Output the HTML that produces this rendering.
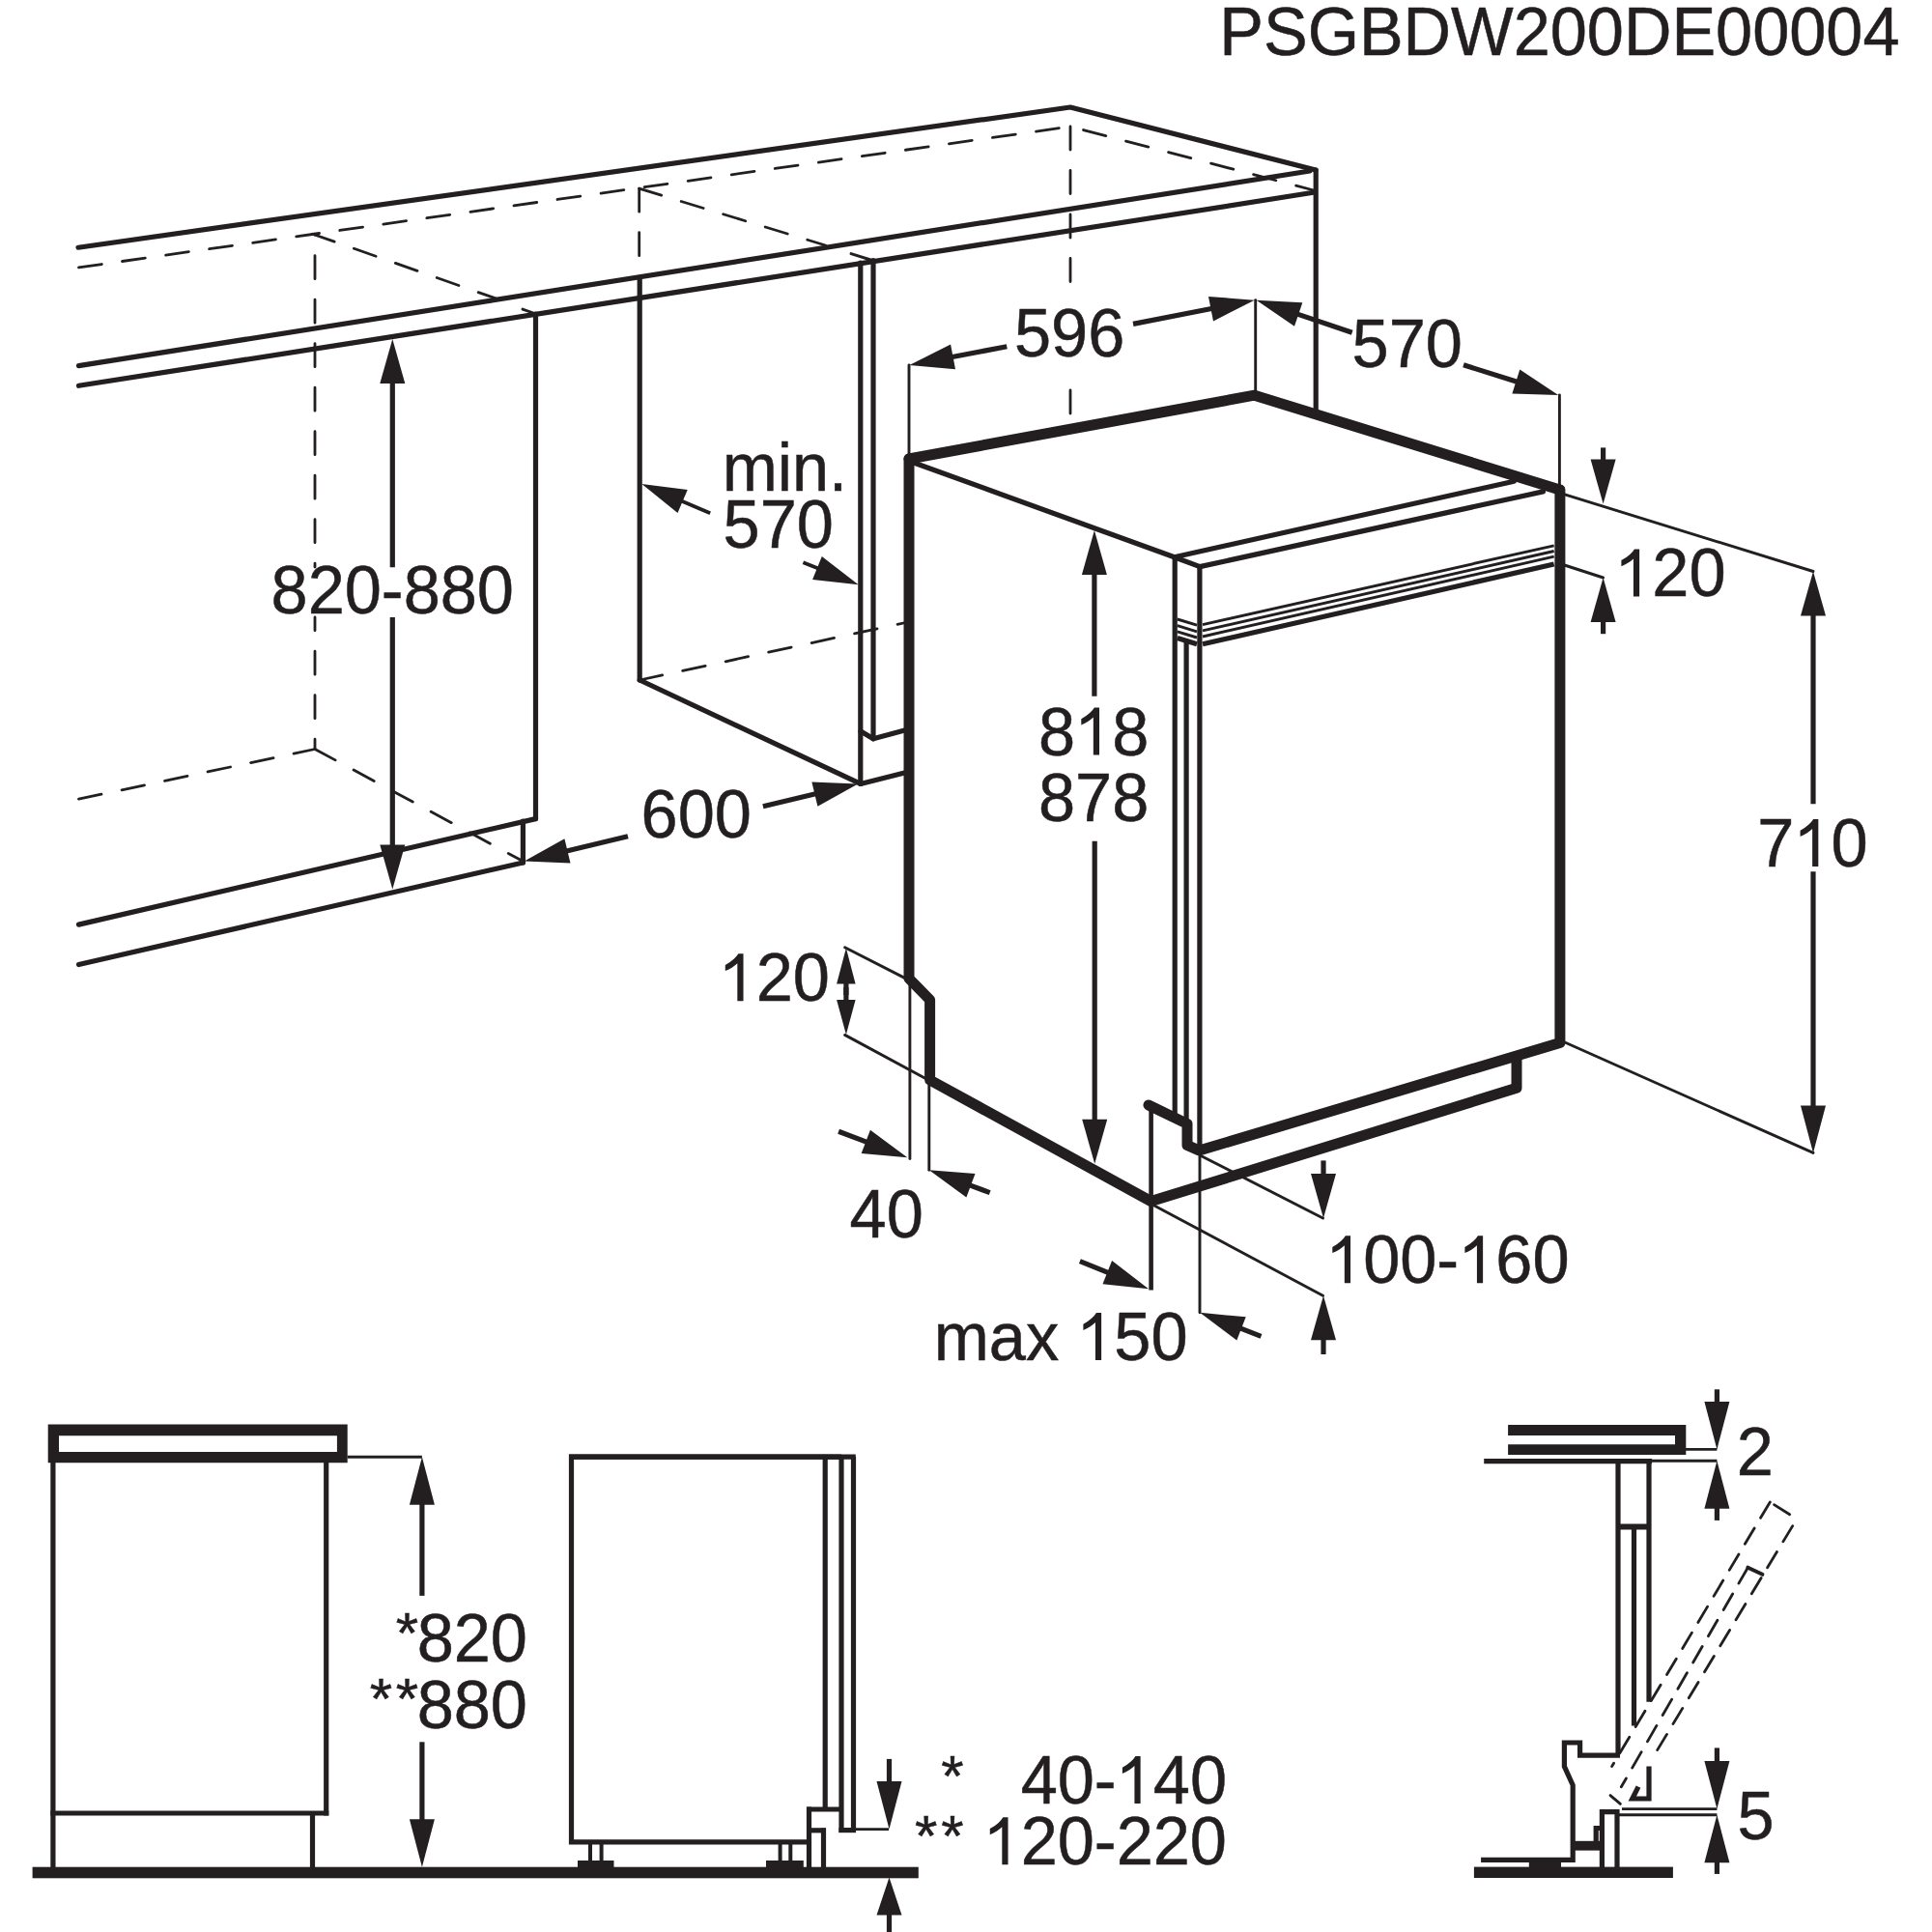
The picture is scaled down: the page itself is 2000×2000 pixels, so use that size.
<!DOCTYPE html>
<html><head><meta charset="utf-8"><style>
html,body{margin:0;padding:0;background:#fff;width:2000px;height:2000px;overflow:hidden}
svg{display:block}
text{font-family:"Liberation Sans",sans-serif;fill:#231f20;stroke:#231f20;stroke-width:0.5}
</style></head><body>
<svg width="2000" height="2000" viewBox="0 0 2000 2000" stroke="#231f20" fill="#231f20">
<text transform="translate(1262.3,57) scale(1,1.03)" font-size="68.5">PSGBDW200DE00004</text>
<polyline points="81,256.2 1108,111 1362,176" stroke-width="5.2" stroke-linecap="round" stroke-linejoin="round" fill="none"/>
<line x1="81.5" y1="276.9" x2="1108" y2="131" stroke-width="2.8" stroke-linecap="round" stroke-dasharray="24 21.5" stroke-dashoffset="0"/>
<line x1="1108" y1="131" x2="1360" y2="197" stroke-width="2.8" stroke-linecap="round" stroke-dasharray="24 21.5" stroke-dashoffset="31.5"/>
<line x1="1108" y1="131" x2="1108" y2="300" stroke-width="2.8" stroke-linecap="round" stroke-dasharray="24 21.5" stroke-dashoffset="0"/>
<line x1="1108" y1="404" x2="1108" y2="429" stroke-width="2.8" stroke-linecap="round" stroke-dasharray="24 21.5" stroke-dashoffset="0"/>
<line x1="81.5" y1="378.6" x2="1356" y2="177" stroke-width="5.2" stroke-linecap="round"/>
<line x1="81.5" y1="399.3" x2="1359.6" y2="199.3" stroke-width="5.2" stroke-linecap="round"/>
<line x1="1362.2" y1="176" x2="1362.2" y2="425" stroke-width="5.2" stroke-linecap="round"/>
<line x1="326" y1="242.2" x2="326" y2="587" stroke-width="2.8" stroke-linecap="round" stroke-dasharray="24 21.5" stroke-dashoffset="23"/>
<line x1="326" y1="639" x2="326" y2="775.5" stroke-width="2.8" stroke-linecap="round" stroke-dasharray="24 21.5" stroke-dashoffset="419.8"/>
<line x1="323.5" y1="242.2" x2="518" y2="310.6" stroke-width="2.8" stroke-linecap="round" stroke-dasharray="24 21.5" stroke-dashoffset="0"/>
<line x1="541" y1="320.1" x2="553.5" y2="324.5" stroke-width="2.9" stroke-linecap="round"/>
<line x1="554.5" y1="325" x2="554.5" y2="847.6" stroke-width="5.2" stroke-linecap="round"/>
<polyline points="554.5,847.6 81.5,957.1" stroke-width="5.2" stroke-linecap="round" stroke-linejoin="round" fill="none"/>
<line x1="541.4" y1="850" x2="541.4" y2="893" stroke-width="5.2" stroke-linecap="round"/>
<line x1="541.4" y1="893" x2="81.5" y2="998.5" stroke-width="5.2" stroke-linecap="round"/>
<line x1="81.5" y1="827.2" x2="326" y2="775.5" stroke-width="2.8" stroke-linecap="round" stroke-dasharray="24 21.5" stroke-dashoffset="0"/>
<line x1="326" y1="775.5" x2="541.4" y2="891.6" stroke-width="2.8" stroke-linecap="round" stroke-dasharray="24 21.5" stroke-dashoffset="0"/>
<polygon points="406.3,350.9 393.3,396.9 419.3,396.9" stroke="none"/>
<line x1="406.3" y1="394.9" x2="406.3" y2="587.2" stroke-width="5.2" stroke-linecap="butt"/>
<polygon points="406.3,920.4 419.3,874.4 393.3,874.4" stroke="none"/>
<line x1="406.3" y1="876.4" x2="406.3" y2="639" stroke-width="5.2" stroke-linecap="butt"/>
<text transform="translate(280.6,634.5) scale(1,1.03)" font-size="68.5">820-880</text>
<line x1="661.7" y1="195.2" x2="661.7" y2="288" stroke-width="2.8" stroke-linecap="round" stroke-dasharray="24 21.5" stroke-dashoffset="0"/>
<line x1="662.2" y1="288" x2="662.2" y2="704" stroke-width="5.2" stroke-linecap="round"/>
<line x1="661.7" y1="195.2" x2="854.6" y2="254" stroke-width="2.8" stroke-linecap="round" stroke-dasharray="24 21.5" stroke-dashoffset="0"/>
<line x1="881" y1="262.6" x2="903" y2="269.5" stroke-width="2.9" stroke-linecap="round"/>
<line x1="890.8" y1="272" x2="890.8" y2="811.4" stroke-width="5.2" stroke-linecap="round"/>
<line x1="904" y1="269.5" x2="904" y2="764.8" stroke-width="5.2" stroke-linecap="round"/>
<line x1="662.2" y1="704" x2="890.8" y2="811.4" stroke-width="5.2" stroke-linecap="round"/>
<line x1="662.2" y1="704" x2="937.4" y2="644.5" stroke-width="2.8" stroke-linecap="round" stroke-dasharray="24 21.5" stroke-dashoffset="0"/>
<polyline points="891,757 904,764.8 937.4,755.7" stroke-width="5.2" stroke-linecap="round" stroke-linejoin="round" fill="none"/>
<line x1="890.8" y1="811.4" x2="937.4" y2="799.7" stroke-width="5.2" stroke-linecap="round"/>
<text transform="translate(747.7,508.3) scale(1,1.03)" font-size="68.5">min.</text>
<text transform="translate(748.6,566.5) scale(1,1.03)" font-size="68.5">570</text>
<polygon points="664.3,500.9 701.5,531 711.7,507.1" stroke="none"/>
<line x1="704.7" y1="518.2" x2="735.2" y2="531.3" stroke-width="3.8" stroke-linecap="butt"/>
<polygon points="888.6,605.2 850.8,576 841.1,600.1" stroke="none"/>
<line x1="847.8" y1="588.8" x2="831.4" y2="582.2" stroke-width="3.8" stroke-linecap="butt"/>
<polygon points="542.7,891.6 590.5,893.4 584.4,868.2" stroke="none"/>
<line x1="585.5" y1="881.3" x2="650" y2="865.7" stroke-width="5.2" stroke-linecap="butt"/>
<polygon points="888.2,811.4 840.4,809.4 846.4,834.7" stroke="none"/>
<line x1="845.4" y1="821.5" x2="789.9" y2="834.7" stroke-width="5.2" stroke-linecap="butt"/>
<text transform="translate(663.6,867) scale(1,1.03)" font-size="68.5">600</text>
<polyline points="941,475 1298.6,409.2 1614.6,507" stroke-width="11" stroke-linecap="round" stroke-linejoin="round" fill="none"/>
<polyline points="941,475 941,1013 962.6,1035 962.6,1118 1191.6,1243.6 1570,1126.3 1570,1095" stroke-width="11" stroke-linecap="round" stroke-linejoin="round" fill="none"/>
<polyline points="1189,1144 1229,1163.4 1229,1185.4 1241.4,1191 1614.9,1079.5 1614.9,507" stroke-width="11" stroke-linecap="round" stroke-linejoin="round" fill="none"/>
<line x1="946" y1="479" x2="1215.7" y2="576.7" stroke-width="5.2" stroke-linecap="round"/>
<line x1="1215.7" y1="576.7" x2="1567.3" y2="498.2" stroke-width="5.2" stroke-linecap="round"/>
<polyline points="1215.7,576.7 1242.1,586.6 1597.4,508.9" stroke-width="5.2" stroke-linecap="round" stroke-linejoin="round" fill="none"/>
<line x1="1216.2" y1="576.7" x2="1216.2" y2="1157" stroke-width="5.2" stroke-linecap="round"/>
<line x1="1241.9" y1="586.6" x2="1241.9" y2="1191" stroke-width="5.2" stroke-linecap="round"/>
<line x1="1228.1" y1="663.7" x2="1228.1" y2="1163" stroke-width="5.2" stroke-linecap="round"/>
<line x1="1245" y1="646.6" x2="1608.7" y2="564.8" stroke-width="2.9" stroke-linecap="butt"/>
<line x1="1245" y1="652.8" x2="1608.7" y2="570.5" stroke-width="2.9" stroke-linecap="butt"/>
<line x1="1245" y1="659" x2="1608.7" y2="576.2" stroke-width="2.9" stroke-linecap="butt"/>
<line x1="1245" y1="666.8" x2="1608.7" y2="584" stroke-width="5.2" stroke-linecap="butt"/>
<line x1="1218.8" y1="641" x2="1239" y2="647.1" stroke-width="2.9" stroke-linecap="butt"/>
<line x1="1218.8" y1="647.7" x2="1239" y2="653.8" stroke-width="2.9" stroke-linecap="butt"/>
<line x1="1218.8" y1="653.9" x2="1239" y2="660" stroke-width="2.9" stroke-linecap="butt"/>
<line x1="1218.8" y1="660.6" x2="1239" y2="666.7" stroke-width="5.2" stroke-linecap="butt"/>
<polygon points="1132.9,548.9 1119.9,594.9 1145.9,594.9" stroke="none"/>
<line x1="1132.9" y1="592.9" x2="1132.9" y2="720.7" stroke-width="5.2" stroke-linecap="butt"/>
<polygon points="1133.2,1204.8 1146.2,1158.8 1120.2,1158.8" stroke="none"/>
<line x1="1133.2" y1="1160.8" x2="1133.2" y2="870.8" stroke-width="5.2" stroke-linecap="butt"/>
<text transform="translate(1075,781.5) scale(1,1.03)" font-size="68.5" xml:space="preserve">8</text>
<path transform="translate(1113.1,781.5) scale(0.03345,-0.03445)" d="M745 0H560V1130Q490 1065 400 1010Q300 950 185 903V1083Q340 1160 450 1260Q540 1340 590 1422H745Z" stroke="none"/>
<text transform="translate(1151.2,781.5) scale(1,1.03)" font-size="68.5" xml:space="preserve">8</text>
<text transform="translate(1075,850.1) scale(1,1.03)" font-size="68.5">878</text>
<line x1="941" y1="378" x2="941" y2="472" stroke-width="2.9" stroke-linecap="round"/>
<polygon points="941.4,378.1 989,382.2 984.1,356.6" stroke="none"/>
<line x1="984.6" y1="369.8" x2="1042.3" y2="358.7" stroke-width="5.2" stroke-linecap="butt"/>
<polygon points="1298.6,310.8 1251,306.9 1256,332.4" stroke="none"/>
<line x1="1255.4" y1="319.3" x2="1173" y2="335.4" stroke-width="5.2" stroke-linecap="butt"/>
<line x1="1299.7" y1="310.6" x2="1299.7" y2="406.6" stroke-width="2.9" stroke-linecap="round"/>
<text transform="translate(1050,369) scale(1,1.03)" font-size="68.5">596</text>
<polygon points="1300.6,310.8 1340,337.8 1348.3,313.2" stroke="none"/>
<line x1="1342.3" y1="324.9" x2="1399.7" y2="344.2" stroke-width="5.2" stroke-linecap="butt"/>
<polygon points="1613.2,408.9 1573.3,382.6 1565.4,407.4" stroke="none"/>
<line x1="1571.3" y1="395.6" x2="1515" y2="377.8" stroke-width="5.2" stroke-linecap="butt"/>
<line x1="1614.4" y1="409" x2="1614.4" y2="503.5" stroke-width="2.9" stroke-linecap="round"/>
<text transform="translate(1399.6,380.4) scale(1,1.03)" font-size="68.5">570</text>
<line x1="1618.2" y1="511.3" x2="1877" y2="591.5" stroke-width="2.9" stroke-linecap="round"/>
<polygon points="1659.6,521.6 1672.6,475.6 1646.6,475.6" stroke="none"/>
<line x1="1659.6" y1="477.6" x2="1659.6" y2="463.4" stroke-width="5.2" stroke-linecap="butt"/>
<line x1="1619.5" y1="585" x2="1659.6" y2="598" stroke-width="2.9" stroke-linecap="round"/>
<polygon points="1659.6,598 1646.6,644 1672.6,644" stroke="none"/>
<line x1="1659.6" y1="642" x2="1659.6" y2="656.2" stroke-width="5.2" stroke-linecap="butt"/>
<path transform="translate(1672.2,617.4) scale(0.03345,-0.03445)" d="M745 0H560V1130Q490 1065 400 1010Q300 950 185 903V1083Q340 1160 450 1260Q540 1340 590 1422H745Z" stroke="none"/>
<text transform="translate(1710.3,617.4) scale(1,1.03)" font-size="68.5" xml:space="preserve">20</text>
<polygon points="1877,591.5 1864,637.5 1890,637.5" stroke="none"/>
<line x1="1877" y1="635.5" x2="1877" y2="832.3" stroke-width="5.2" stroke-linecap="butt"/>
<polygon points="1877,1193.4 1890,1144.4 1864,1144.4" stroke="none"/>
<line x1="1877" y1="1146.4" x2="1877" y2="902.2" stroke-width="5.2" stroke-linecap="butt"/>
<text transform="translate(1819.3,897) scale(1,1.03)" font-size="68.5" xml:space="preserve">7</text>
<path transform="translate(1857.4,897) scale(0.03345,-0.03445)" d="M745 0H560V1130Q490 1065 400 1010Q300 950 185 903V1083Q340 1160 450 1260Q540 1340 590 1422H745Z" stroke="none"/>
<text transform="translate(1895.5,897) scale(1,1.03)" font-size="68.5" xml:space="preserve">0</text>
<line x1="1618.2" y1="1078.2" x2="1877" y2="1193.4" stroke-width="2.9" stroke-linecap="round"/>
<line x1="874.6" y1="980.8" x2="938" y2="1013.1" stroke-width="2.9" stroke-linecap="round"/>
<line x1="874.6" y1="1071.4" x2="961" y2="1118" stroke-width="2.9" stroke-linecap="round"/>
<polygon points="875.9,981.5 866.1,1018.5 885.6,1018.5" stroke="none"/>
<line x1="875.9" y1="1016.5" x2="875.9" y2="1030" stroke-width="5.2" stroke-linecap="butt"/>
<polygon points="875.9,1071 885.6,1035 866.1,1035" stroke="none"/>
<line x1="875.9" y1="1037" x2="875.9" y2="1022" stroke-width="5.2" stroke-linecap="butt"/>
<path transform="translate(744.6,1036.2) scale(0.03345,-0.03445)" d="M745 0H560V1130Q490 1065 400 1010Q300 950 185 903V1083Q340 1160 450 1260Q540 1340 590 1422H745Z" stroke="none"/>
<text transform="translate(782.7,1036.2) scale(1,1.03)" font-size="68.5" xml:space="preserve">20</text>
<line x1="941.9" y1="1013" x2="941.9" y2="1199.6" stroke-width="2.9" stroke-linecap="round"/>
<line x1="961.8" y1="1118" x2="961.8" y2="1211.3" stroke-width="2.9" stroke-linecap="round"/>
<polygon points="939.3,1198.3 900.9,1169.8 891.7,1194.1" stroke="none"/>
<line x1="898.2" y1="1182.6" x2="868.1" y2="1171.2" stroke-width="5.2" stroke-linecap="butt"/>
<polygon points="961.8,1211.3 1000.4,1239.5 1009.5,1215.1" stroke="none"/>
<line x1="1003.1" y1="1226.6" x2="1024.7" y2="1234.6" stroke-width="5.2" stroke-linecap="butt"/>
<text transform="translate(879.6,1281.2) scale(1,1.03)" font-size="68.5">40</text>
<line x1="1191.6" y1="1147.9" x2="1191.6" y2="1335.5" stroke-width="4.6" stroke-linecap="butt"/>
<line x1="1242" y1="1191" x2="1242" y2="1358.8" stroke-width="2.9" stroke-linecap="round"/>
<polygon points="1189,1334.2 1151.1,1305 1141.5,1329.2" stroke="none"/>
<line x1="1148.2" y1="1317.8" x2="1117.9" y2="1305.7" stroke-width="5.2" stroke-linecap="butt"/>
<polygon points="1242.1,1358.8 1280.3,1387.6 1289.7,1363.3" stroke="none"/>
<line x1="1283.1" y1="1374.7" x2="1305.5" y2="1383.4" stroke-width="5.2" stroke-linecap="butt"/>
<text transform="translate(966.8,1408) scale(1,1.03)" font-size="68.5" xml:space="preserve">max </text>
<path transform="translate(1115.2,1408) scale(0.03345,-0.03445)" d="M745 0H560V1130Q490 1065 400 1010Q300 950 185 903V1083Q340 1160 450 1260Q540 1340 590 1422H745Z" stroke="none"/>
<text transform="translate(1153.3,1408) scale(1,1.03)" font-size="68.5" xml:space="preserve">50</text>
<line x1="1242.7" y1="1196.2" x2="1369.5" y2="1261" stroke-width="2.9" stroke-linecap="round"/>
<line x1="1191.6" y1="1246.2" x2="1369.5" y2="1341.2" stroke-width="2.9" stroke-linecap="round"/>
<polygon points="1370,1261 1383,1215 1357,1215" stroke="none"/>
<line x1="1370" y1="1217" x2="1370" y2="1201.4" stroke-width="5.2" stroke-linecap="butt"/>
<polygon points="1370,1341.2 1357,1387.2 1383,1387.2" stroke="none"/>
<line x1="1370" y1="1385.2" x2="1370" y2="1402" stroke-width="5.2" stroke-linecap="butt"/>
<path transform="translate(1373.1,1328.2) scale(0.03345,-0.03445)" d="M745 0H560V1130Q490 1065 400 1010Q300 950 185 903V1083Q340 1160 450 1260Q540 1340 590 1422H745Z" stroke="none"/>
<text transform="translate(1411.2,1328.2) scale(1,1.03)" font-size="68.5" xml:space="preserve">00-</text>
<path transform="translate(1510.2,1328.2) scale(0.03345,-0.03445)" d="M745 0H560V1130Q490 1065 400 1010Q300 950 185 903V1083Q340 1160 450 1260Q540 1340 590 1422H745Z" stroke="none"/>
<text transform="translate(1548.3,1328.2) scale(1,1.03)" font-size="68.5" xml:space="preserve">60</text>
<path d="M49.7,1474.6 H359.7 V1514.2 H49.7 Z M61,1486.2 H348.9 V1503 H61 Z" fill-rule="evenodd" stroke="none"/>
<line x1="54.9" y1="1514" x2="54.9" y2="1934" stroke-width="5.2" stroke-linecap="butt"/>
<line x1="337.7" y1="1514" x2="337.7" y2="1879.5" stroke-width="5.2" stroke-linecap="butt"/>
<line x1="52.3" y1="1877" x2="340.3" y2="1877" stroke-width="5.2" stroke-linecap="butt"/>
<line x1="323.5" y1="1877" x2="323.5" y2="1934" stroke-width="5.2" stroke-linecap="butt"/>
<rect x="33.6" y="1932.7" width="917.2" height="11.6" stroke="none"/>
<line x1="359.7" y1="1508.2" x2="436.9" y2="1508.2" stroke-width="2.9" stroke-linecap="butt"/>
<polygon points="436.9,1508.2 423.9,1557.7 449.9,1557.7" stroke="none"/>
<line x1="436.9" y1="1555.7" x2="436.9" y2="1651.9" stroke-width="5.2" stroke-linecap="butt"/>
<polygon points="436.9,1932.7 449.9,1883.2 423.9,1883.2" stroke="none"/>
<line x1="436.9" y1="1885.2" x2="436.9" y2="1803.3" stroke-width="5.2" stroke-linecap="butt"/>
<text transform="translate(431.7,1720.4) scale(1,1.03)" font-size="68.5">820</text>
<text transform="translate(409.7,1711.1)" font-size="60">*</text>
<text transform="translate(431.7,1789) scale(1,1.03)" font-size="68.5">880</text>
<text transform="translate(382.8,1779.4)" font-size="60">*</text>
<text transform="translate(409.7,1779.4)" font-size="60">*</text>
<polyline points="871,1508.2 591.5,1508.2 591.5,1906.8 837.5,1906.8" stroke-width="5.2" stroke-linecap="butt" stroke-linejoin="miter" fill="none"/>
<line x1="589" y1="1508.2" x2="885.8" y2="1508.2" stroke-width="5.2" stroke-linecap="butt"/>
<line x1="854.2" y1="1508" x2="854.2" y2="1873" stroke-width="5.2" stroke-linecap="butt"/>
<line x1="871" y1="1508" x2="871" y2="1897" stroke-width="5.2" stroke-linecap="butt"/>
<line x1="883.5" y1="1508" x2="883.5" y2="1897" stroke-width="5.2" stroke-linecap="butt"/>
<line x1="835" y1="1873" x2="869.3" y2="1873" stroke-width="5.2" stroke-linecap="butt"/>
<line x1="837.5" y1="1870.5" x2="837.5" y2="1933" stroke-width="5.2" stroke-linecap="butt"/>
<line x1="837.5" y1="1894.8" x2="855" y2="1894.8" stroke-width="5.2" stroke-linecap="butt"/>
<line x1="852.5" y1="1892.5" x2="852.5" y2="1933" stroke-width="5.2" stroke-linecap="butt"/>
<line x1="868.4" y1="1894.6" x2="886" y2="1894.6" stroke-width="5.2" stroke-linecap="butt"/>
<line x1="886" y1="1893.6" x2="920" y2="1893.6" stroke-width="2.9" stroke-linecap="butt"/>
<polygon points="920.5,1893.6 933.5,1844.1 907.5,1844.1" stroke="none"/>
<line x1="920.5" y1="1846.1" x2="920.5" y2="1820.9" stroke-width="5.2" stroke-linecap="butt"/>
<polygon points="920.5,1943.5 907.5,1982.5 933.5,1982.5" stroke="none"/>
<line x1="920.5" y1="1980.5" x2="920.5" y2="2000" stroke-width="5.2" stroke-linecap="butt"/>
<line x1="611" y1="1907" x2="611" y2="1928" stroke-width="4" stroke-linecap="butt"/>
<line x1="622.6" y1="1907" x2="622.6" y2="1928" stroke-width="4" stroke-linecap="butt"/>
<rect x="598" y="1926" width="37.5" height="8" stroke="none"/>
<line x1="807.6" y1="1907" x2="807.6" y2="1928" stroke-width="4" stroke-linecap="butt"/>
<line x1="818.3" y1="1907" x2="818.3" y2="1928" stroke-width="4" stroke-linecap="butt"/>
<rect x="793" y="1926" width="38.8" height="8" stroke="none"/>
<text transform="translate(974.3,1859.2)" font-size="60">*</text>
<text transform="translate(1056.7,1867) scale(1,1.03)" font-size="68.5" xml:space="preserve">40-</text>
<path transform="translate(1155.7,1867) scale(0.03345,-0.03445)" d="M745 0H560V1130Q490 1065 400 1010Q300 950 185 903V1083Q340 1160 450 1260Q540 1340 590 1422H745Z" stroke="none"/>
<text transform="translate(1193.8,1867) scale(1,1.03)" font-size="68.5" xml:space="preserve">40</text>
<text transform="translate(947.1,1920.9)" font-size="60">*</text>
<text transform="translate(974.3,1920.9)" font-size="60">*</text>
<path transform="translate(1018.6,1930.3) scale(0.03345,-0.03445)" d="M745 0H560V1130Q490 1065 400 1010Q300 950 185 903V1083Q340 1160 450 1260Q540 1340 590 1422H745Z" stroke="none"/>
<text transform="translate(1056.7,1930.3) scale(1,1.03)" font-size="68.5" xml:space="preserve">20-220</text>
<path d="M1561.1,1475 H1745.3 V1506 H1561.1 Z M1561.1,1485.9 H1734 V1495.2 H1561.1 Z" fill-rule="evenodd" stroke="none"/>
<line x1="1745" y1="1500.4" x2="1777.4" y2="1500.4" stroke-width="2.9" stroke-linecap="butt"/>
<line x1="1536.2" y1="1512.6" x2="1710.1" y2="1512.6" stroke-width="5.3" stroke-linecap="butt"/>
<line x1="1710" y1="1512.2" x2="1777.4" y2="1512.2" stroke-width="2.9" stroke-linecap="butt"/>
<polygon points="1777.4,1500.4 1790.4,1450.9 1764.4,1450.9" stroke="none"/>
<line x1="1777.4" y1="1452.9" x2="1777.4" y2="1438.3" stroke-width="5.2" stroke-linecap="butt"/>
<polygon points="1777.4,1512.2 1764.4,1561.7 1790.4,1561.7" stroke="none"/>
<line x1="1777.4" y1="1559.7" x2="1777.4" y2="1573.9" stroke-width="5.2" stroke-linecap="butt"/>
<text transform="translate(1797.8,1527) scale(1,1.03)" font-size="68.5">2</text>
<line x1="1675" y1="1512" x2="1675" y2="1816.3" stroke-width="5.2" stroke-linecap="butt"/>
<line x1="1707" y1="1512" x2="1707" y2="1761.8" stroke-width="5.2" stroke-linecap="butt"/>
<line x1="1675" y1="1580.5" x2="1707" y2="1580.5" stroke-width="6" stroke-linecap="butt"/>
<line x1="1691.5" y1="1580.5" x2="1691.5" y2="1786.4" stroke-width="5.2" stroke-linecap="butt"/>
<polyline points="1696,1849.7 1689.8,1862 1707,1862 1707,1828.6" stroke-width="5.2" stroke-linecap="butt" stroke-linejoin="miter" fill="none"/>
<polyline points="1677,1817.2 1635.6,1817.2 1635.6,1804 1619.4,1804 1619.4,1828.6 1628.2,1848 1628.2,1925.4 1533.1,1925.4" stroke-width="5.2" stroke-linecap="butt" stroke-linejoin="miter" fill="none"/>
<rect x="1525.9" y="1932.6" width="206" height="11.4" stroke="none"/>
<rect x="1582.8" y="1928" width="33.2" height="5" stroke="none"/>
<rect x="1628" y="1905.8" width="30" height="9.8" stroke="none"/>
<polyline points="1652.2,1906 1652.2,1892.5 1658,1892.5" stroke-width="5.2" stroke-linecap="butt" stroke-linejoin="miter" fill="none"/>
<polyline points="1658.4,1933 1658.4,1875.7 1674,1875.7 1674,1933" stroke-width="5.2" stroke-linecap="butt" stroke-linejoin="miter" fill="none"/>
<line x1="1679" y1="1872.6" x2="1777.4" y2="1872.6" stroke-width="2.9" stroke-linecap="butt"/>
<line x1="1675" y1="1878.8" x2="1777.4" y2="1878.8" stroke-width="2.9" stroke-linecap="butt"/>
<polygon points="1777.4,1872.6 1790.4,1823.1 1764.4,1823.1" stroke="none"/>
<line x1="1777.4" y1="1825.1" x2="1777.4" y2="1809.4" stroke-width="5.2" stroke-linecap="butt"/>
<polygon points="1777.4,1878.8 1764.4,1928.3 1790.4,1928.3" stroke="none"/>
<line x1="1777.4" y1="1926.3" x2="1777.4" y2="1939.9" stroke-width="5.2" stroke-linecap="butt"/>
<text transform="translate(1798.5,1903.6) scale(1,1.03)" font-size="68.5">5</text>
<line x1="1832.3" y1="1555" x2="1668.6" y2="1828.6" stroke-width="2.8" stroke-linecap="round" stroke-dasharray="19 12.5" stroke-dashoffset="0"/>
<line x1="1832.3" y1="1555" x2="1853.4" y2="1568.2" stroke-width="2.8" stroke-linecap="round" stroke-dasharray="19 12.5" stroke-dashoffset="26.5"/>
<line x1="1855.7" y1="1579.6" x2="1710" y2="1821" stroke-width="2.8" stroke-linecap="round" stroke-dasharray="19 12.5" stroke-dashoffset="0"/>
<line x1="1809.4" y1="1622.7" x2="1678.3" y2="1849.8" stroke-width="2.8" stroke-linecap="round" stroke-dasharray="19 12.5" stroke-dashoffset="0"/>
<line x1="1809.4" y1="1622.7" x2="1824.4" y2="1629.8" stroke-width="4" stroke-linecap="round"/>
<line x1="1667" y1="1858.6" x2="1677.4" y2="1867.4" stroke-width="2.8" stroke-linecap="round"/>
</svg>
</body></html>
